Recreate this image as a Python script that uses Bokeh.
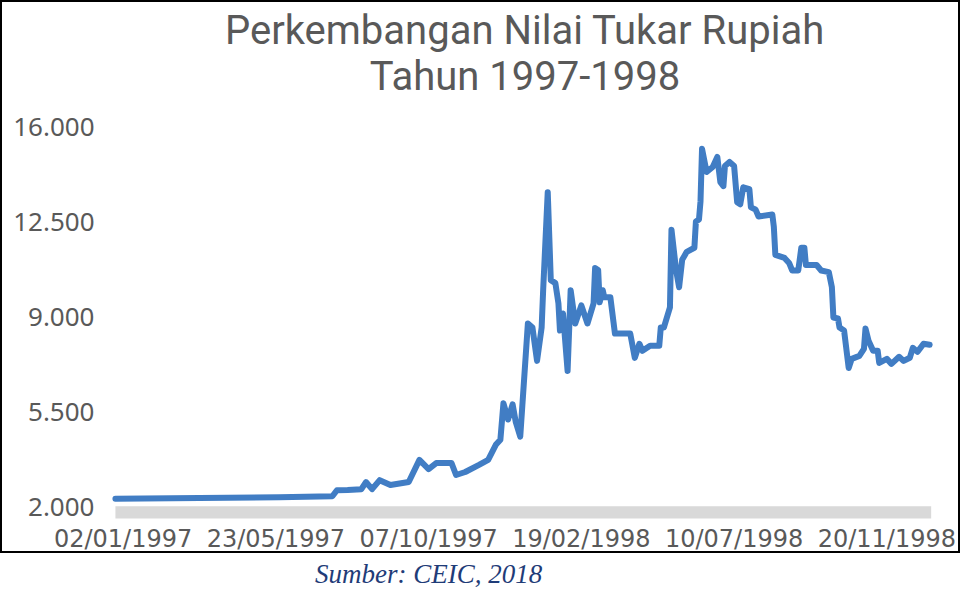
from bokeh.plotting import figure
from bokeh.models import Range1d, FixedTicker, Div, Title
from bokeh.layouts import column
from bokeh.embed import file_html
from bokeh.resources import INLINE

# ---- data ----
# trading-day index (0 = 02/01/1997) and IDR per USD
day_index = [0, 55, 107, 142, 145, 152, 161, 164, 168, 173, 180, 192, 199, 205,
             210, 220, 223, 229, 238, 244, 249, 252, 254, 257, 260, 262, 265,
             270, 273, 276, 279, 280, 283, 285, 288, 290, 291, 293, 296, 298,
             301, 305, 309, 313, 314, 316, 317, 319, 320, 324, 327, 337, 340,
             343, 345, 350, 356, 357, 359, 363, 364, 367, 369, 371, 374, 379,
             380, 382, 383, 384, 387, 391, 394, 396, 398, 399, 402, 405, 407,
             409, 411, 415, 416, 419, 421, 430, 431, 432, 438, 441, 443, 447,
             449, 451, 452, 459, 462, 467, 469, 470, 473, 474, 477, 480, 482,
             487, 490, 491, 493, 496, 499, 500, 505, 508, 513, 516, 520, 522,
             525, 527, 529, 533]
rate = [2320, 2340, 2370, 2410, 2630, 2640, 2670, 2930, 2670, 3000, 2820, 2930,
        3745, 3410, 3630, 3630, 3190, 3300, 3560, 3745, 4300, 4490, 5825, 5230,
        5790, 5155, 4600, 8760, 8610, 7385, 8610, 9985, 13590, 10355, 10245,
        9500, 8500, 9130, 7015, 9985, 8760, 9425, 8760, 9500, 10800, 10730,
        9540, 9985, 9725, 9725, 8390, 8390, 7495, 8015, 7755, 7940, 7940, 8610,
        8610, 9355, 12210, 10730, 10095, 11100, 11395, 11545, 12510, 12585,
        13250, 15185, 14330, 14515, 14885, 13955, 13810, 14550, 14700, 14550,
        13215, 13140, 13770, 13700, 13030, 12955, 12695, 12770, 12325, 11285,
        11170, 10985, 10710, 10710, 11545, 11545, 10910, 10910, 10710, 10650,
        10095, 8980, 8945, 8610, 8500, 7125, 7460, 7570, 7830, 8575, 8125,
        7755, 7755, 7310, 7460, 7275, 7535, 7385, 7500, 7865, 7720, 7865, 8015,
        7980]

x_tick_index = [5, 105, 205, 305, 405, 505]
x_tick_labels = ["02/01/1997", "23/05/1997", "07/10/1997",
                 "19/02/1998", "10/07/1998", "20/11/1998"]
y_ticks = [2000, 5500, 9000, 12500, 16000]
y_tick_labels = ["2.000", "5.500", "9.000", "12.500", "16.000"]

title_lines = ["Perkembangan Nilai Tukar Rupiah", "Tahun 1997-1998"]
source_note = "Sumber: CEIC, 2018"

GRAY = "#595959"

p = figure(frame_width=845, frame_height=400,
           x_range=Range1d(-9.77, 546), y_range=Range1d(1517, 16371),
           output_backend="svg", toolbar_location=None,
           min_border_left=98, min_border_right=13,
           min_border_top=114, min_border_bottom=35)
p.styles = {"border": "2px solid black"}

def style_title(t):
    t.align = "center"
    t.text_font = "Roboto"
    t.text_font_size = "40px"
    t.text_font_style = "normal"
    t.text_color = GRAY

p.title.text = title_lines[0]
style_title(p.title)
p.title.standoff = -40
sub = Title(text=title_lines[1])
style_title(sub)
sub.standoff = 34
p.add_layout(sub, "above")

p.outline_line_color = None
p.xgrid.visible = False
p.ygrid.visible = False

# grey category-axis band
p.quad(left=[day_index[0]], right=[day_index[-1] + 1], bottom=[1590], top=[2040],
       fill_color="#D9D9D9", line_color=None)

p.line(day_index, rate, line_color="#417DC4", line_width=6,
       line_join="round", line_cap="round")

p.xaxis.ticker = FixedTicker(ticks=x_tick_index)
p.xaxis.major_label_overrides = {t: l for t, l in zip(x_tick_index, x_tick_labels)}
p.yaxis.ticker = FixedTicker(ticks=y_ticks)
p.yaxis.major_label_overrides = {t: l for t, l in zip(y_ticks, y_tick_labels)}

for ax in (p.xaxis[0], p.yaxis[0]):
    ax.axis_line_color = None
    ax.major_tick_line_color = None
    ax.minor_tick_line_color = None
    ax.major_tick_out = 0
    ax.major_tick_in = 0
    ax.major_label_text_color = GRAY
p.xaxis.major_label_text_font = "DejaVu Sans"
p.yaxis.major_label_text_font = "Noto Sans"
p.xaxis.major_label_text_font_size = "24px"
p.yaxis.major_label_text_font_size = "26px"
p.xaxis.major_label_standoff = 4
p.yaxis.major_label_standoff = 6

caption = Div(text=source_note, width=400, height=34, margin=(2, 0, 0, 315),
              styles={"font-family": "'Liberation Serif', serif",
                      "font-style": "italic", "font-size": "27px",
                      "color": "#1F3C78"})

layout = column(p, caption)
open("out.html", "w").write(file_html(layout, INLINE))
